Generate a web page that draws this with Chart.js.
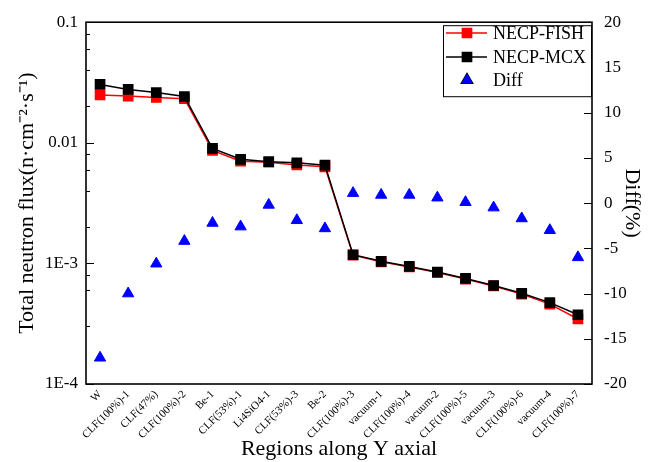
<!DOCTYPE html>
<html>
<head>
<meta charset="utf-8">
<script src="https://cdn.jsdelivr.net/npm/chart.js@4.4.1/dist/chart.umd.min.js"></script>
<style>
  html, body { margin: 0; padding: 0; background: #fff; }
  #wrap { width: 659px; height: 462px; }
</style>
</head>
<body>
<div id="wrap"><canvas id="fluxChart" width="659" height="462"></canvas></div>
<script>
// regions along the Y axis
const regions = ['W', 'CLF(100%)-1', 'CLF(47%)', 'CLF(100%)-2', 'Be-1', 'CLF(53%)-1', 'Li4SiO4-1',
  'CLF(53%)-3', 'Be-2', 'CLF(100%)-3', 'vacuum-1', 'CLF(100%)-4', 'vacuum-2', 'CLF(100%)-5',
  'vacuum-3', 'CLF(100%)-6', 'vacuum-4', 'CLF(100%)-7'];

// total neutron flux values
const fishFlux = [0.0249, 0.0244, 0.0238, 0.0232, 0.00865, 0.00703, 0.00690, 0.00656, 0.00632,
  0.00117, 0.00103, 0.000935, 0.000840, 0.000742, 0.000650, 0.000556, 0.000460, 0.000346];
const mcxFlux = [0.0305, 0.0277, 0.0261, 0.0242, 0.00898, 0.00730, 0.00698, 0.00682, 0.00652,
  0.00118, 0.00104, 0.000944, 0.000849, 0.000750, 0.000656, 0.000565, 0.000473, 0.000375];
// relative difference in %
const diffPct = [-17.1, -10.0, -6.7, -4.2, -2.2, -2.6, -0.2, -1.9, -2.8,
  1.1, 0.9, 0.9, 0.6, 0.1, -0.5, -1.7, -3.0, -6.0];

// tick labels of the log axis
const fluxTicks = [0.1, 0.01, 0.001, 0.0001];
const fluxTickLabels = ['0.1', '0.01', '1E-3', '1E-4'];
const diffTicks = [20, 15, 10, 5, 0, -5, -10, -15, -20];

const serif = "'Liberation Serif', 'Times New Roman', serif";

// frame + inward ticks like the original plot
const framePlugin = {
  id: 'frame',
  afterDraw(chart) {
    const ctx = chart.ctx;
    const a = chart.chartArea;
    ctx.save();
    ctx.strokeStyle = '#000';
    ctx.lineWidth = 1;
    const y = chart.scales.y;
    y.ticks.forEach(t => {
      const p = Math.round(y.getPixelForValue(t.value)) + 0.5;
      const len = t.label ? 8 : 4;
      ctx.beginPath();
      ctx.moveTo(a.left, p);
      ctx.lineTo(a.left + len, p);
      ctx.stroke();
    });
    const y1 = chart.scales.y1;
    y1.ticks.forEach(t => {
      const p = Math.round(y1.getPixelForValue(t.value)) + 0.5;
      const len = t.label ? 8 : 4;
      ctx.beginPath();
      ctx.moveTo(a.right, p);
      ctx.lineTo(a.right - len, p);
      ctx.stroke();
    });
    ctx.lineWidth = 1.6;
    ctx.strokeRect(a.left, a.top, a.right - a.left, a.bottom - a.top);
    ctx.restore();
  }
};

// legend box inside the plot, top right
const legendPlugin = {
  id: 'boxLegend',
  afterDraw(chart) {
    const ctx = chart.ctx;
    const a = chart.chartArea;
    const w = 148, h = 71;
    const x0 = a.right - w - 1, y0 = a.top + 3;
    const rows = [33, 57, 80];
    ctx.save();
    ctx.fillStyle = '#fff';
    ctx.fillRect(x0, y0, w, h);
    ctx.strokeStyle = '#000';
    ctx.lineWidth = 1;
    ctx.strokeRect(x0 + 0.5, y0 + 0.5, w, h);
    ctx.font = '18px ' + serif;
    ctx.textBaseline = 'middle';
    chart.data.datasets.forEach((ds, i) => {
      const ry = rows[i];
      const cx = x0 + 24;
      if (ds.showLine !== false) {
        ctx.strokeStyle = ds.borderColor;
        ctx.lineWidth = 1.5;
        ctx.beginPath();
        ctx.moveTo(x0 + 3, ry);
        ctx.lineTo(x0 + 44, ry);
        ctx.stroke();
      }
      Chart.helpers.drawPoint(ctx, {
        pointStyle: ds.pointStyle,
        radius: ds.pointRadius,
        borderWidth: 1
      }, cx, ry);
      ctx.fillStyle = ds.pointBackgroundColor;
      ctx.strokeStyle = ds.pointBorderColor;
      ctx.fill();
      ctx.fillStyle = '#000';
      ctx.fillText(ds.label, x0 + 50, ry + 1);
    });
    ctx.restore();
  }
};

const ctx = document.getElementById('fluxChart').getContext('2d');
const fluxChart = new Chart(ctx, {
  type: 'line',
  data: {
    labels: regions,
    datasets: [{
      label: 'NECP-FISH',
      data: fishFlux,
      yAxisID: 'y',
      borderColor: '#ff0000',
      backgroundColor: '#ff0000',
      pointBackgroundColor: '#ff0000',
      pointBorderColor: '#ff0000',
      pointStyle: 'rect',
      pointRadius: 6.5,
      borderWidth: 1.5,
      order: 1
    }, {
      label: 'NECP-MCX',
      data: mcxFlux,
      yAxisID: 'y',
      borderColor: '#000000',
      backgroundColor: '#000000',
      pointBackgroundColor: '#000000',
      pointBorderColor: '#000000',
      pointStyle: 'rect',
      pointRadius: 6.5,
      borderWidth: 1.5,
      order: 0
    }, {
      label: 'Diff',
      data: diffPct,
      yAxisID: 'y1',
      showLine: false,
      borderColor: '#0000ff',
      backgroundColor: '#0000ff',
      pointBackgroundColor: '#0000ff',
      pointBorderColor: '#0000ff',
      pointStyle: 'triangle',
      pointRadius: 6.5,
      order: 2
    }]
  },
  options: {
    responsive: false,
    animation: false,
    layout: { padding: { top: 18, left: 0, right: 0, bottom: 0 } },
    plugins: {
      legend: { display: false },
      tooltip: { enabled: false }
    },
    scales: {
      x: {
        type: 'category',
        offset: true,
        grid: { display: false, drawTicks: false },
        border: { display: false },
        ticks: {
          autoSkip: false,
          minRotation: 45,
          maxRotation: 45,
          padding: 4,
          color: '#000',
          font: { family: serif, size: 11 }
        },
        title: {
          display: true,
          text: 'Regions along Y axial',
          color: '#000',
          font: { family: serif, size: 22 },
          padding: { top: 0, bottom: 0 }
        },
        afterFit: s => { s.height = 78; }
      },
      y: {
        type: 'logarithmic',
        position: 'left',
        min: 0.0001,
        max: 0.1,
        grid: { display: false, drawTicks: false },
        border: { display: false },
        ticks: {
          padding: 8,
          color: '#000',
          font: { family: serif, size: 17 },
          callback: v => {
            const i = fluxTicks.findIndex(t => Math.abs(t - v) / t < 1e-6);
            return i >= 0 ? fluxTickLabels[i] : '';
          }
        },
        title: {
          display: true,
          text: 'Total neutron flux(n·cm⁻²·s⁻¹)',
          color: '#000',
          font: { family: serif, size: 22 },
          padding: { top: 14, bottom: 0 }
        },
        afterFit: s => { s.width = 86; }
      },
      y1: {
        type: 'linear',
        position: 'right',
        min: -20,
        max: 20,
        grid: { display: false, drawTicks: false },
        border: { display: false },
        ticks: {
          stepSize: 2.5,
          padding: 12,
          color: '#000',
          font: { family: serif, size: 17 },
          callback: v => diffTicks.includes(v) ? String(v) : ''
        },
        title: {
          display: true,
          text: 'Diff(%)',
          color: '#000',
          font: { family: serif, size: 22 },
          padding: { top: 14, bottom: 0 }
        },
        afterFit: s => { s.width = 67; }
      }
    }
  },
  plugins: [framePlugin, legendPlugin]
});
</script>
</body>
</html>
